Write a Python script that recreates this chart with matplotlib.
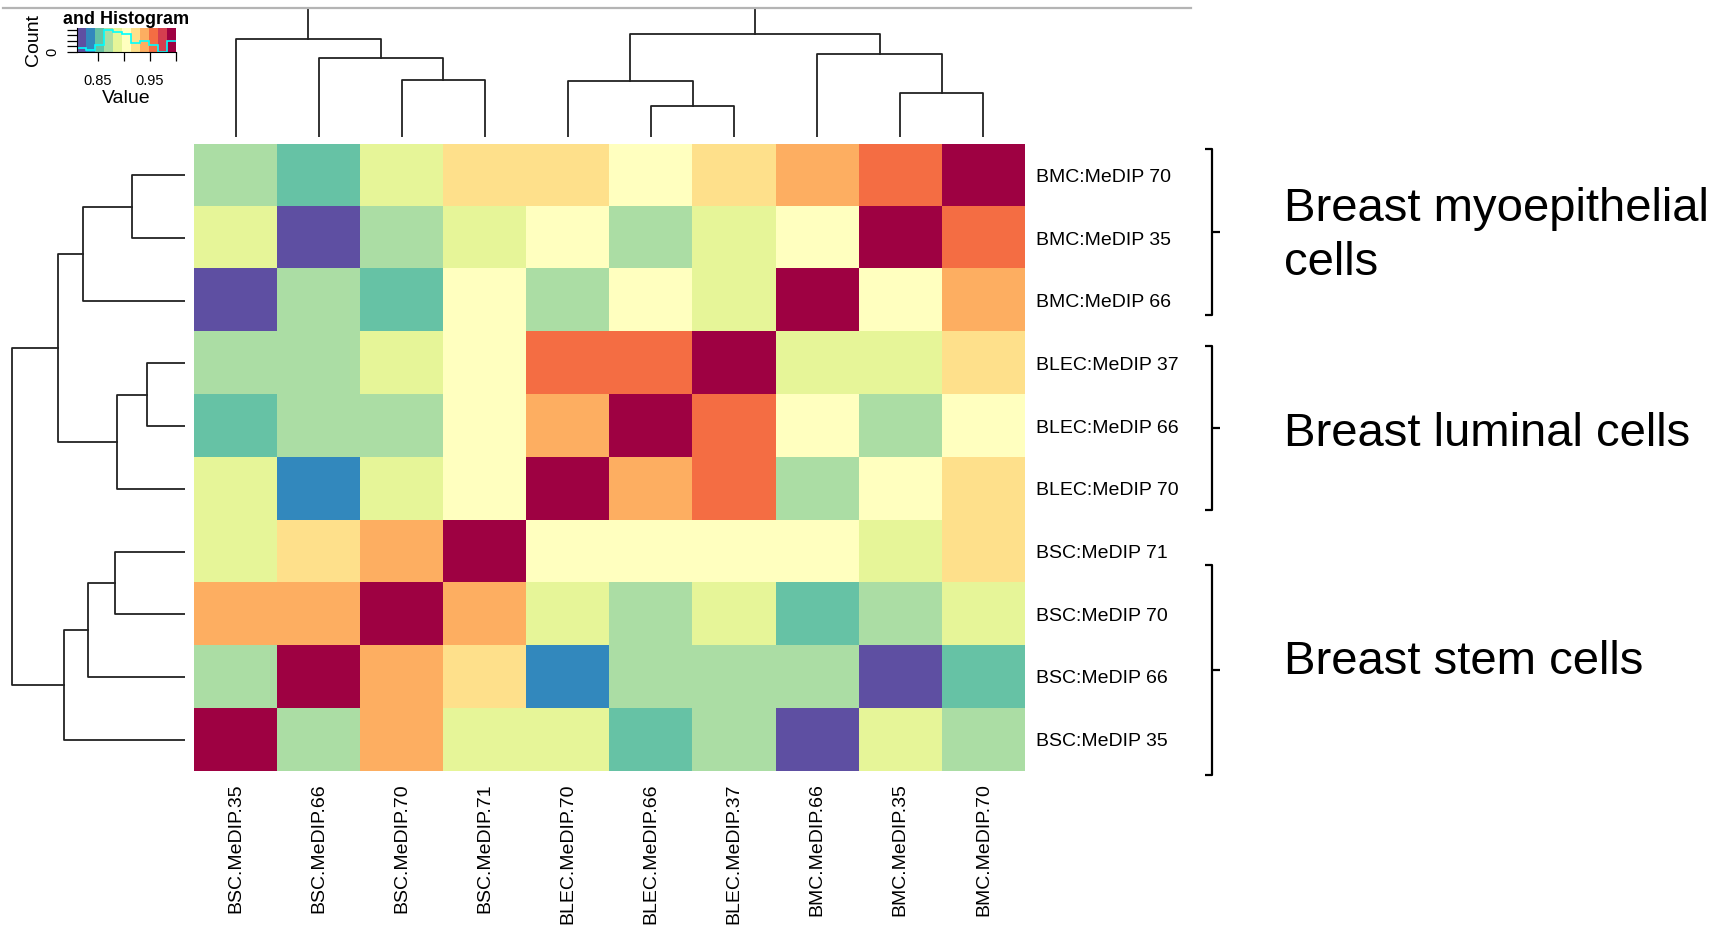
import numpy as np
import matplotlib
matplotlib.use("Agg")
import matplotlib.pyplot as plt
from matplotlib.colors import ListedColormap, BoundaryNorm
from matplotlib.lines import Line2D

plt.rcParams['font.family'] = ['Liberation Sans', 'DejaVu Sans']

row_labels = ["BMC:MeDIP 70", "BMC:MeDIP 35", "BMC:MeDIP 66",
              "BLEC:MeDIP 37", "BLEC:MeDIP 66", "BLEC:MeDIP 70",
              "BSC:MeDIP 71", "BSC:MeDIP 70", "BSC:MeDIP 66", "BSC:MeDIP 35"]
col_labels = ["BSC.MeDIP.35", "BSC.MeDIP.66", "BSC.MeDIP.70", "BSC.MeDIP.71",
              "BLEC.MeDIP.70", "BLEC.MeDIP.66", "BLEC.MeDIP.37",
              "BMC.MeDIP.66", "BMC.MeDIP.35", "BMC.MeDIP.70"]

# correlations, rows top -> bottom, columns left -> right
corr = np.array([
    [0.870, 0.853, 0.888, 0.922, 0.922, 0.905, 0.922, 0.940, 0.957, 1.000],
    [0.888, 0.820, 0.870, 0.888, 0.905, 0.870, 0.888, 0.905, 1.000, 0.957],
    [0.820, 0.870, 0.853, 0.905, 0.870, 0.905, 0.888, 1.000, 0.905, 0.940],
    [0.870, 0.870, 0.888, 0.905, 0.957, 0.957, 1.000, 0.888, 0.888, 0.922],
    [0.853, 0.870, 0.870, 0.905, 0.940, 1.000, 0.957, 0.905, 0.870, 0.905],
    [0.888, 0.835, 0.888, 0.905, 1.000, 0.940, 0.957, 0.870, 0.905, 0.922],
    [0.888, 0.922, 0.940, 1.000, 0.905, 0.905, 0.905, 0.905, 0.888, 0.922],
    [0.940, 0.940, 1.000, 0.940, 0.888, 0.870, 0.888, 0.853, 0.870, 0.888],
    [0.870, 1.000, 0.940, 0.922, 0.835, 0.870, 0.870, 0.870, 0.820, 0.853],
    [1.000, 0.870, 0.940, 0.888, 0.888, 0.853, 0.870, 0.820, 0.888, 0.870],
])

# dendrogram merges: (child a, child b, height); new nodes numbered from 10
col_merges = [(2, 3, 57), (1, 10, 79), (0, 11, 98), (5, 6, 31), (4, 13, 56),
              (8, 9, 44), (7, 15, 83), (14, 16, 103), (12, 17, 140)]
row_merges = [(0, 1, 53), (10, 2, 102), (3, 4, 38), (12, 5, 68), (11, 13, 127),
              (6, 7, 70), (15, 8, 97), (16, 9, 121), (14, 17, 173)]

groups = ["Breast myoepithelial\ncells", "Breast luminal cells", "Breast stem cells"]
group_rows = [(-0.42, 2.23), (2.72, 5.34), (6.21, 9.56)]
group_text_y = [0.97, 4.12, 7.76]

spectral = ["#5E4FA2", "#3288BD", "#66C2A5", "#ABDDA4", "#E6F598", "#FFFFBF",
            "#FEE08B", "#FDAE61", "#F46D43", "#D53E4F", "#9E0142"]
breaks = np.linspace(0.81, 1.0, 12)

W, H = 1732, 926
fig = plt.figure(figsize=(W / 100, H / 100), dpi=100)


def box(x0, y0, x1, y1):
    return [x0 / W, 1 - y1 / H, (x1 - x0) / W, (y1 - y0) / H]


cmap = ListedColormap(spectral)
cmap.set_over(spectral[-1])
norm = BoundaryNorm(breaks, cmap.N)

# heatmap
ax = fig.add_axes(box(194, 144, 1025, 771))
ax.imshow(corr, cmap=cmap, norm=norm, aspect='auto', interpolation='nearest')
ax.set_xticks(range(len(col_labels)))
ax.set_xticklabels(col_labels, rotation=90, fontsize=14, va='top')
ax.set_yticks(range(len(row_labels)))
ax.set_yticklabels(row_labels, fontsize=14)
ax.yaxis.tick_right()
ax.tick_params(length=0, pad=8)
ax.tick_params(axis='x', pad=9)
for s in ax.spines.values():
    s.set_visible(False)

# brackets and group names
for name, (r0, r1), ty in zip(groups, group_rows, group_text_y):
    kw = dict(color='black', lw=1.6, clip_on=False, solid_capstyle='butt',
              scalex=False, scaley=False)
    ax.plot([11.67, 11.75, 11.75, 11.67], [r0, r0, r1, r1], **kw)
    ax.plot([11.75, 11.85], [(r0 + r1) / 2] * 2, **kw)
    ax.text(12.62, ty, name, fontsize=34, va='center', ha='left',
            linespacing=1.28, clip_on=False)
ax.set_xlim(-0.5, 9.5)
ax.set_ylim(9.5, -0.5)


def draw_dendro(axd, merges, n, vertical):
    pos = {i: float(i) for i in range(n)}
    hgt = {i: 0.0 for i in range(n)}
    for k, (a, b, h) in enumerate(merges):
        xs = [pos[a], pos[a], pos[b], pos[b]]
        ys = [hgt[a], h, h, hgt[b]]
        if vertical:
            axd.plot(xs, ys, color='#222222', lw=1.3)
        else:
            axd.plot(ys, xs, color='#222222', lw=1.3)
        pos[n + k] = (pos[a] + pos[b]) / 2
        hgt[n + k] = h


# column dendrogram
axt = fig.add_axes(box(194, 8, 1025, 137))
draw_dendro(axt, col_merges, 10, True)
axt.set_xlim(-0.5, 9.5)
axt.set_ylim(0, 129)
axt.axis('off')

# row dendrogram
axl = fig.add_axes(box(0, 144, 185, 771))
draw_dendro(axl, row_merges, 10, False)
axl.set_xlim(185, 0)
axl.set_ylim(9.5, -0.5)
axl.axis('off')

# top grey rule
fig.add_artist(Line2D([3 / W, 1191 / W], [1 - 8 / H] * 2, color='#b4b4b4', lw=1.6))

# color key with histogram
axk = fig.add_axes(box(77, 28, 176, 52))
centers = (breaks[:-1] + breaks[1:]) / 2
axk.pcolormesh(breaks, [0, 21.7], centers[None, :], cmap=cmap, norm=norm)
counts, _ = np.histogram(corr.ravel(), bins=breaks)
axk.stairs(counts, breaks, baseline=None, color='#00FFFF', lw=1.2)
axk.set_xlim(breaks[0], breaks[-1])
axk.set_ylim(0, 21.7)
axk.set_xticks([0.85, 0.90, 0.95, 1.00])
axk.set_xticklabels(["0.85", "", "0.95", ""], fontsize=10.5)
axk.set_yticks([0, 5, 10, 15, 20])
axk.set_yticklabels(["0", "", "", "", ""], fontsize=10.5, rotation=90, va='center')
axk.tick_params(axis='x', length=6.5, width=0.9, pad=9)
axk.tick_params(axis='y', length=7, width=0.9, pad=6)
axk.set_xlabel("Value", fontsize=14, labelpad=2)
axk.set_ylabel("Count", fontsize=14, labelpad=2)
axk.set_title("and Histogram", fontsize=13, fontweight='bold', pad=1)
for s in ['top', 'right']:
    axk.spines[s].set_visible(False)

fig.savefig("out.png", dpi=100)
